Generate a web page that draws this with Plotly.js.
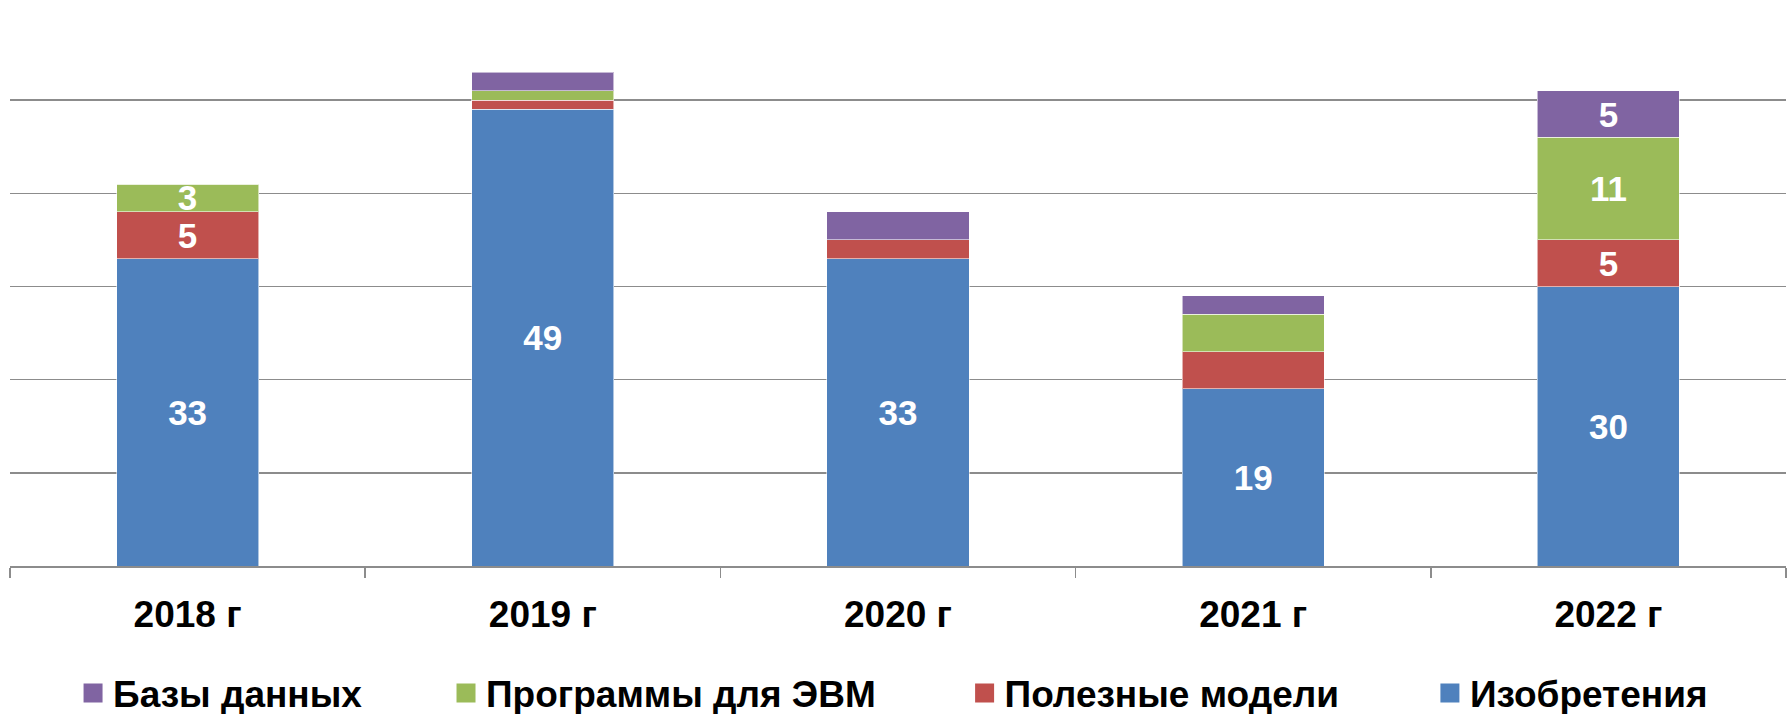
<!DOCTYPE html>
<html>
<head>
<meta charset="utf-8">
<script src="https://cdn.plot.ly/plotly-3.0.1.min.js"></script>
<style>
html,body{margin:0;padding:0;background:#fff;}
#chart{width:1789px;height:714px;}
</style>
</head>
<body>
<div id="chart"></div>
<script>
const years = ["2018 г", "2019 г", "2020 г", "2021 г", "2022 г"];
const inventions = [33, 49, 33, 19, 30];
const utilityModels = [5, 1, 2, 4, 5];
const software = [3, 1, 0, 4, 11];
const databases = [0, 2, 3, 2, 5];
const inventionsLabels = ["33", "49", "33", "19", "30"];
const utilityLabels = ["5", "", "", "", "5"];
const softwareLabels = ["3", "", "", "", "11"];
const databasesLabels = ["", "", "", "", "5"];
const seriesNames = ["Изобретения", "Полезные модели", "Программы для ЭВМ", "Базы данных"];
const colors = ["#4F81BD", "#C0504D", "#9BBB59", "#8064A2"];

const fontFamily = "Liberation Sans, Arial, sans-serif";
const labelFont = {family: fontFamily, size: 35, color: "#ffffff", weight: "bold"};

function barTrace(vals, labels, i) {
  return {
    type: "bar",
    x: years,
    y: vals,
    name: seriesNames[i],
    text: labels,
    textposition: "inside",
    insidetextanchor: "middle",
    textangle: 0,
    constraintext: "none",
    textfont: labelFont,
    marker: {color: colors[i], line: {width: 1, color: "rgba(255,255,255,0.55)"}},
    hoverinfo: "x+y+name",
    showlegend: false
  };
}

function legendTrace(i, legendId) {
  return {
    type: "scatter",
    mode: "markers",
    x: [null],
    y: [null],
    name: seriesNames[i],
    legend: legendId,
    marker: {symbol: "square", size: 16, color: colors[i], line: {width: 3, color: colors[i]}},
    showlegend: true,
    hoverinfo: "skip"
  };
}

const data = [
  barTrace(inventions, inventionsLabels, 0),
  barTrace(utilityModels, utilityLabels, 1),
  barTrace(software, softwareLabels, 2),
  barTrace(databases, databasesLabels, 3),
  legendTrace(3, "legend"),
  legendTrace(2, "legend2"),
  legendTrace(1, "legend3"),
  legendTrace(0, "legend4")
];

const legendFont = {family: fontFamily, size: 37, color: "#000000", weight: "bold"};
function legendBox(x) {
  return {x: x, xanchor: "left", y: -0.228, yanchor: "middle", orientation: "h",
          font: legendFont, bgcolor: "rgba(0,0,0,0)", borderwidth: 0, itemsizing: "trace"};
}

const layout = {
  width: 1789,
  height: 714,
  margin: {l: 10, r: 3, t: 7, b: 148, autoexpand: false},
  paper_bgcolor: "#ffffff",
  plot_bgcolor: "#ffffff",
  barmode: "stack",
  bargap: 0.6,
  xaxis: {
    type: "category",
    tickson: "boundaries",
    ticks: "outside",
    ticklen: 10,
    tickwidth: 1.5,
    tickcolor: "#8c8c8c",
    showline: true,
    linecolor: "#8c8c8c",
    linewidth: 1.5,
    showgrid: false,
    ticklabelstandoff: 15,
    tickfont: {family: fontFamily, size: 37, color: "#000000", weight: "bold"},
    automargin: false,
    fixedrange: true
  },
  yaxis: {
    range: [0, 60],
    dtick: 10,
    showgrid: true,
    gridcolor: "#8c8c8c",
    gridwidth: 1.5,
    showticklabels: false,
    zeroline: false,
    showline: false,
    ticks: "",
    automargin: false,
    fixedrange: true
  },
  showlegend: true,
  legend: legendBox(0.0355),
  legend2: legendBox(0.2455),
  legend3: legendBox(0.5375),
  legend4: legendBox(0.7995)
};

Plotly.newPlot("chart", data, layout, {displayModeBar: false, staticPlot: true});
</script>
</body>
</html>
